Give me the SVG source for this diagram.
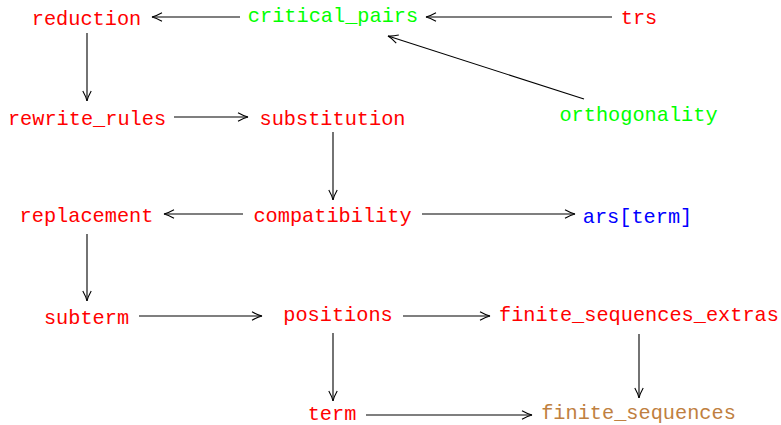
<svg xmlns="http://www.w3.org/2000/svg" width="781" height="425" viewBox="0 0 781 425">
  <style>
    .lbl { font-family: "Liberation Mono", "DejaVu Sans Mono", monospace; font-size: 20.3px; text-anchor: middle; }
    .red { fill: #ff0000; }
    .green { fill: #00ff00; }
    .blue { fill: #0000ff; }
    .brown { fill: #bf8040; }
    .edge { fill: none; stroke: #000; stroke-width: 1.1; marker-end: url(#head); }
  </style>
  <defs>
    <marker id="head" markerUnits="userSpaceOnUse" viewBox="-11 -5 12 10" refX="0" refY="0" markerWidth="12" markerHeight="10" orient="auto">
      <path d="M -10 -4.2 Q -4 -0.8 0 0 Q -4 0.8 -10 4.2" fill="none" stroke="#000" stroke-width="1.1"/>
    </marker>
  </defs>

  <g id="connectors">
    <line class="edge" x1="240" y1="17" x2="152" y2="17"/>
    <line class="edge" x1="612" y1="17" x2="426" y2="17"/>
    <line class="edge" x1="584" y1="99" x2="388" y2="36"/>
    <line class="edge" x1="87" y1="33" x2="87" y2="101"/>
    <line class="edge" x1="174" y1="117" x2="248" y2="117"/>
    <line class="edge" x1="333" y1="132" x2="333" y2="200"/>
    <line class="edge" x1="243" y1="214" x2="164" y2="214"/>
    <line class="edge" x1="422" y1="214" x2="575" y2="214"/>
    <line class="edge" x1="87" y1="234" x2="87" y2="301"/>
    <line class="edge" x1="139" y1="316" x2="262" y2="316"/>
    <line class="edge" x1="403" y1="316" x2="490" y2="316"/>
    <line class="edge" x1="333" y1="333" x2="333" y2="401"/>
    <line class="edge" x1="639" y1="334" x2="639" y2="398"/>
    <line class="edge" x1="366" y1="415" x2="532" y2="415"/>
  </g>

  <g id="reduction"><text class="lbl red" x="86.5" y="24.5">reduction</text></g>
  <g id="critical_pairs"><text class="lbl green" x="333" y="21.7">critical_pairs</text></g>
  <g id="trs"><text class="lbl red" x="639" y="24">trs</text></g>
  <g id="orthogonality"><text class="lbl green" x="638.5" y="121">orthogonality</text></g>
  <g id="rewrite_rules"><text class="lbl red" x="87" y="124.5">rewrite_rules</text></g>
  <g id="substitution"><text class="lbl red" x="332.5" y="124.5">substitution</text></g>
  <g id="replacement"><text class="lbl red" x="86.5" y="221.5">replacement</text></g>
  <g id="compatibility"><text class="lbl red" x="332.5" y="221.5">compatibility</text></g>
  <g id="ars_term"><text class="lbl blue" x="637.5" y="223">ars[term]</text></g>
  <g id="subterm"><text class="lbl red" x="86.5" y="324">subterm</text></g>
  <g id="positions"><text class="lbl red" x="338" y="321">positions</text></g>
  <g id="finite_sequences_extras"><text class="lbl red" x="639" y="320.5">finite_sequences_extras</text></g>
  <g id="term"><text class="lbl red" x="332" y="420">term</text></g>
  <g id="finite_sequences"><text class="lbl brown" x="638.5" y="419">finite_sequences</text></g>
</svg>
